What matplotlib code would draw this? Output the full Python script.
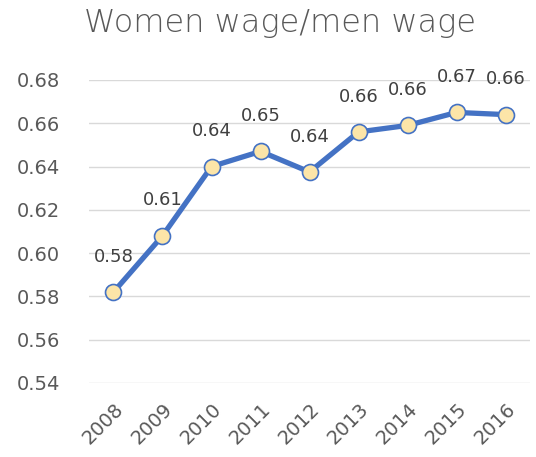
import numpy as np
import matplotlib.pyplot as plt

years = ['2008', '2009', '2010', '2011', '2012', '2013', '2014', '2015', '2016']
ratio = [0.582, 0.608, 0.640, 0.647, 0.6375, 0.656, 0.659, 0.665, 0.664]
yticks = [0.54, 0.56, 0.58, 0.60, 0.62, 0.64, 0.66, 0.68]

plt.rcParams['font.family'] = ['DejaVu Sans']

fig = plt.figure(figsize=(5.36, 4.57), dpi=100)
ax = fig.add_axes([0.166, 0.162, 0.823, 0.663])

x = np.arange(len(years))
ax.plot(x, ratio, color='#4472C4', lw=3.8, marker='o', ms=11.5,
        mfc='#FCE5A8', mec='#4472C4', mew=1.2, zorder=3)

for xi, v in zip(x, ratio):
    ax.annotate(f'{v:.2f}', (xi, v), xytext=(0, 19), textcoords='offset points',
                ha='center', va='bottom', fontsize=13, color='#404040')

ax.set_xlim(-0.5, len(years) - 0.5)
ax.set_ylim(0.54, 0.68)
ax.set_yticks(yticks)
ax.set_yticklabels([f'{t:.2f}' for t in yticks])
ax.set_xticks(x)
ax.set_xticklabels(years, rotation=45, ha='right', rotation_mode='anchor')
ax.tick_params(axis='both', length=0, labelsize=14, labelcolor='#595959')
ax.tick_params(axis='y', pad=21)
ax.tick_params(axis='x', pad=12)
ax.grid(axis='y', color='#D9D9D9', lw=1)
ax.set_axisbelow(True)
for s in ax.spines.values():
    s.set_visible(False)

fig.text(0.523, 0.95, 'Women wage/men wage', ha='center', va='center',
         fontsize=23, color='#595959', weight='light')

fig.savefig('out.png', dpi=100)
